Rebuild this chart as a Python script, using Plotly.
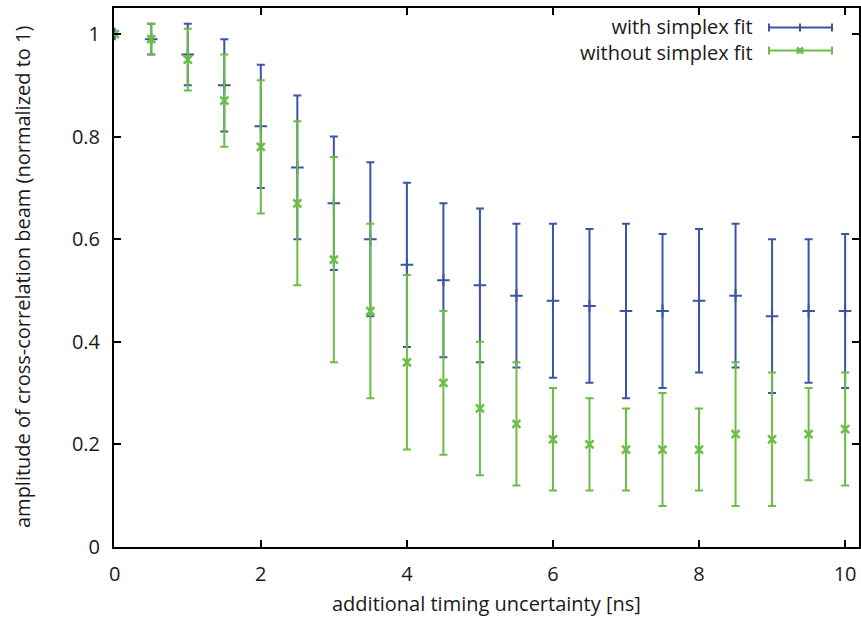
import plotly.graph_objects as go

x = [0, 0.5, 1, 1.5, 2, 2.5, 3, 3.5, 4, 4.5, 5, 5.5, 6, 6.5, 7, 7.5, 8, 8.5, 9, 9.5, 10]

with_y  = [1.00, 0.99, 0.96, 0.90, 0.82, 0.74, 0.67, 0.60, 0.55, 0.52, 0.51, 0.49, 0.48, 0.47, 0.46, 0.46, 0.48, 0.49, 0.45, 0.46, 0.46]
with_lo = [1.00, 0.96, 0.90, 0.81, 0.70, 0.60, 0.54, 0.45, 0.39, 0.37, 0.36, 0.35, 0.33, 0.32, 0.29, 0.31, 0.34, 0.35, 0.30, 0.32, 0.31]
with_hi = [1.00, 1.02, 1.02, 0.99, 0.94, 0.88, 0.80, 0.75, 0.71, 0.67, 0.66, 0.63, 0.63, 0.62, 0.63, 0.61, 0.62, 0.63, 0.60, 0.60, 0.61]

wo_y  = [1.00, 0.99, 0.95, 0.87, 0.78, 0.67, 0.56, 0.46, 0.36, 0.32, 0.27, 0.24, 0.21, 0.20, 0.19, 0.19, 0.19, 0.22, 0.21, 0.22, 0.23]
wo_lo = [1.00, 0.96, 0.89, 0.78, 0.65, 0.51, 0.36, 0.29, 0.19, 0.18, 0.14, 0.12, 0.11, 0.11, 0.11, 0.08, 0.11, 0.08, 0.08, 0.13, 0.12]
wo_hi = [1.00, 1.02, 1.01, 0.96, 0.91, 0.83, 0.76, 0.63, 0.53, 0.46, 0.40, 0.36, 0.31, 0.29, 0.27, 0.30, 0.27, 0.36, 0.34, 0.31, 0.34]

x_ticks = [0, 2, 4, 6, 8, 10]
y_ticks = [0, 0.2, 0.4, 0.6, 0.8, 1]
y_tick_text = ["0", "0.2", "0.4", "0.6", "0.8", "1"]

names = ["with simplex fit", "without simplex fit"]
x_title = "additional timing uncertainty [ns]"
y_title = "amplitude of cross-correlation beam (normalized to 1)"

BLUE = "#3a55a6"
GREEN = "#6abd45"
FONT = "Open Sans"
TXT = "#1a1a1a"
FS = 20

FW, FH = 861, 621
L, R, T, B = 114, 859, 8, 547          # plot area in page pixels

def err(y, lo, hi, color):
    return dict(type="data", symmetric=False,
                array=[h - v for v, h in zip(y, hi)],
                arrayminus=[v - l for v, l in zip(y, lo)],
                color=color, thickness=2, width=4)

fig = go.Figure()
fig.add_trace(go.Scatter(x=x, y=with_y, mode="markers", name=names[0],
                         marker=dict(symbol="cross-thin", size=9, line=dict(color=BLUE, width=2), color=BLUE),
                         error_y=err(with_y, with_lo, with_hi, BLUE), showlegend=False))
fig.add_trace(go.Scatter(x=x, y=wo_y, mode="markers", name=names[1],
                         marker=dict(symbol="x-thin", size=8, line=dict(color=GREEN, width=2.5), color=GREEN),
                         error_y=err(wo_y, wo_lo, wo_hi, GREEN), showlegend=False))

W, H = R - L, B - T
def px(v):  # page x -> paper
    return (v - L) / W
def py(v):  # page y -> paper
    return (B - v) / H

shapes = []
annotations = []
rows = [27.5, 50.5]
annotations.append(dict(x=px(755), y=py(sum(rows) / 2 + 0.5), xref="paper", yref="paper",
                        text="<br>".join(names), align="right",
                        showarrow=False, xanchor="right", yanchor="middle",
                        font=dict(family=FONT, size=FS, color=TXT)))
for i, color in enumerate([BLUE, GREEN]):
    yy = rows[i]
    shapes.append(dict(type="line", xref="paper", yref="paper", x0=px(769), x1=px(832), y0=py(yy), y1=py(yy),
                       line=dict(color=color, width=2)))
    for xc in (769, 832):
        shapes.append(dict(type="line", xref="paper", yref="paper", x0=px(xc), x1=px(xc), y0=py(yy - 4), y1=py(yy + 4),
                           line=dict(color=color, width=2)))
    if i == 0:
        shapes.append(dict(type="line", xref="paper", yref="paper", x0=px(800), x1=px(800), y0=py(yy - 4), y1=py(yy + 4),
                           line=dict(color=color, width=2)))
    else:
        shapes.append(dict(type="line", xref="paper", yref="paper", x0=px(797), x1=px(803), y0=py(yy - 3), y1=py(yy + 3),
                           line=dict(color=color, width=2.5)))
        shapes.append(dict(type="line", xref="paper", yref="paper", x0=px(797), x1=px(803), y0=py(yy + 3), y1=py(yy - 3),
                           line=dict(color=color, width=2.5)))

# axis titles
annotations.append(dict(x=px(486.5), y=py(603), xref="paper", yref="paper", text=x_title, showarrow=False,
                        xanchor="center", yanchor="middle", font=dict(family=FONT, size=FS, color=TXT)))
annotations.append(dict(x=px(22), y=py(277), xref="paper", yref="paper", text=y_title, showarrow=False,
                        textangle=-90, xanchor="center", yanchor="middle", font=dict(family=FONT, size=FS, color=TXT)))

axis_common = dict(showline=True, linecolor="black", linewidth=2, mirror="ticks",
                   ticks="inside", ticklen=7, tickwidth=2, tickcolor="black",
                   showgrid=False, zeroline=False, automargin=False,
                   tickfont=dict(family=FONT, size=FS, color=TXT))

fig.update_layout(
    width=FW, height=FH,
    margin=dict(l=L, r=FW - R, t=T, b=FH - B, autoexpand=False),
    plot_bgcolor="white", paper_bgcolor="white",
    xaxis=dict(range=[-0.01, 10.19], tickvals=x_ticks, ticklabelstandoff=8, **axis_common),
    yaxis=dict(range=[0, (B - T) / 513], tickvals=y_ticks, ticktext=y_tick_text, ticklabelstandoff=8, **axis_common),
    shapes=shapes, annotations=annotations,
)

fig.write_html("out.html", config={"displayModeBar": False},
               post_script="document.body.style.margin='0';document.body.style.overflow='hidden';"
                           "document.documentElement.style.overflow='hidden';")
